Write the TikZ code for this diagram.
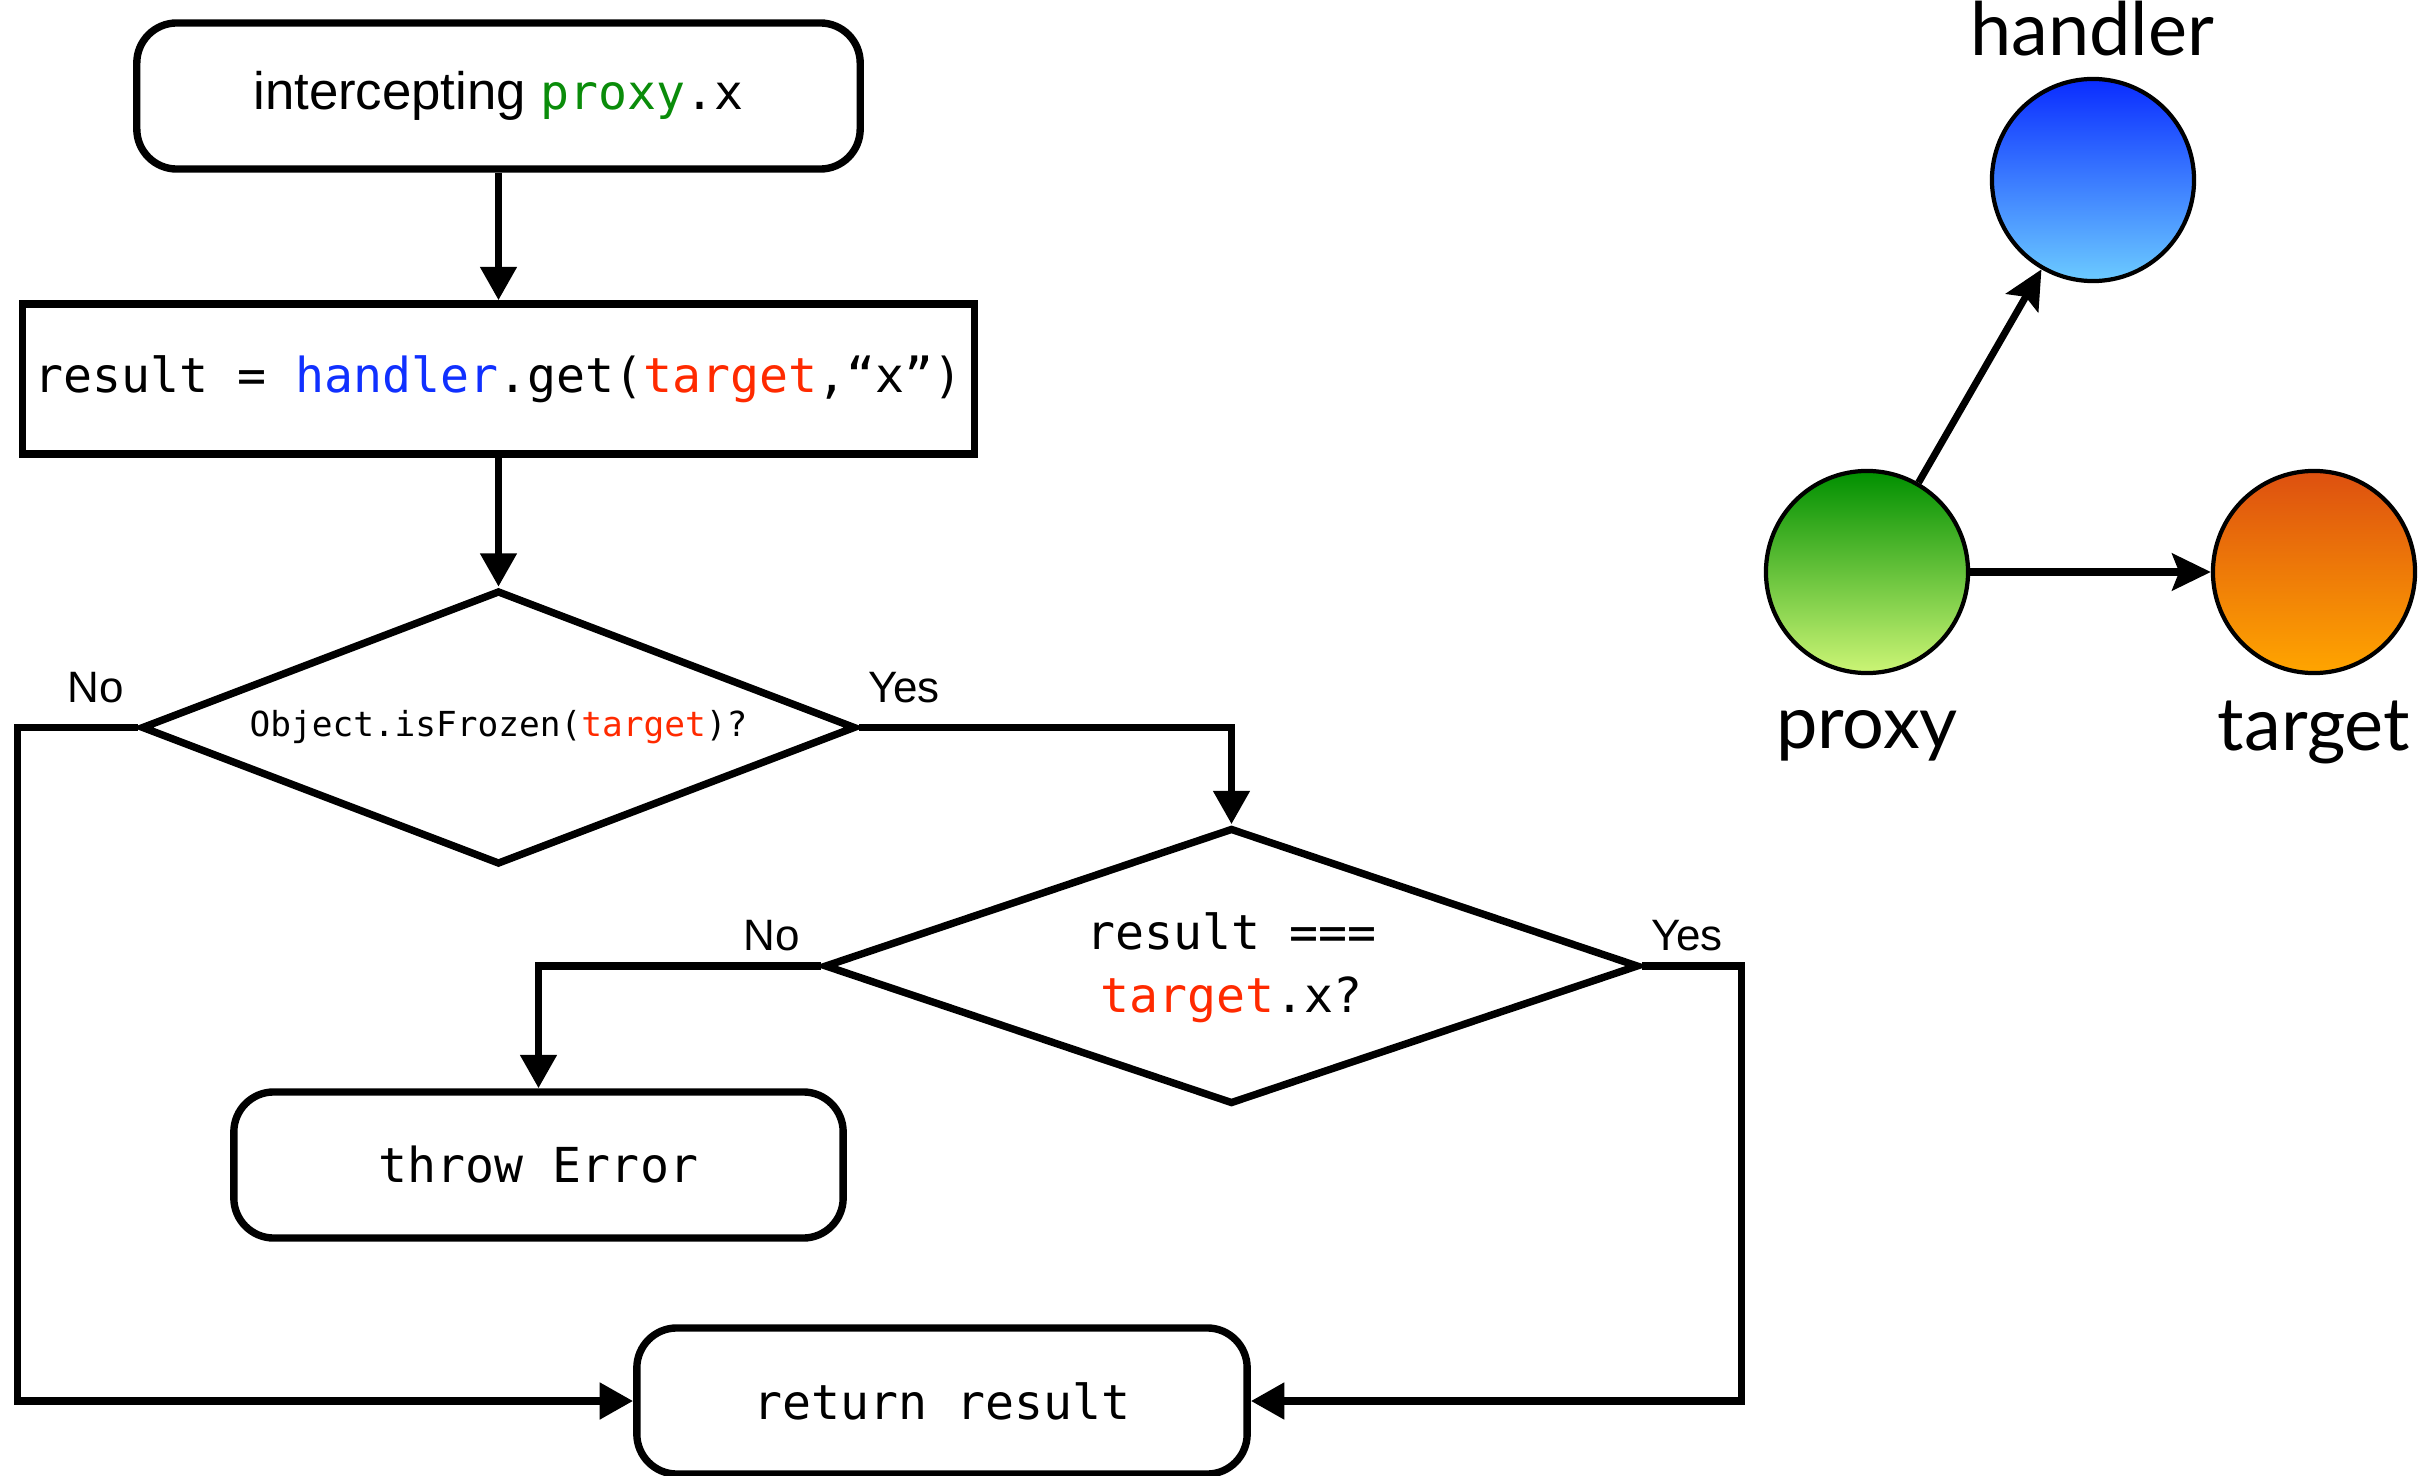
\documentclass[tikz,border=0pt]{standalone}
\usepackage{fontspec}
\setmainfont{Liberation Sans}
\setmonofont{DejaVu Sans Mono}
\newfontfamily\labelfont{Lato}
\usetikzlibrary{shapes.geometric,arrows.meta}
\definecolor{pgreen}{HTML}{0A8C0A}
\definecolor{hblue}{HTML}{1030FF}
\definecolor{tred}{HTML}{FF2A00}
\definecolor{hbtop}{HTML}{0A2CFF}
\definecolor{hbbot}{HTML}{6CCBFF}
\definecolor{pgtop}{HTML}{008F00}
\definecolor{pgbot}{HTML}{CCF576}
\definecolor{ttop}{HTML}{DD5010}
\definecolor{tbot}{HTML}{FFA500}
\newcommand\codefnt{\fontsize{13.7}{18}\selectfont\ttfamily}
\begin{document}
\begin{tikzpicture}[x=0.01cm,y=-0.01cm,
  rbox/.style={draw, line width=2.1pt, rounded corners=0.4cm, minimum height=1.46cm, inner sep=0pt, font=\codefnt},
  sbox/.style={draw, line width=2.1pt, inner sep=0pt, font=\codefnt},
  dbox/.style={draw, diamond, line width=2.1pt, inner sep=0pt},
  conn/.style={line width=2.1pt, -{Triangle[length=9.5pt,width=10pt]}},
  lbl/.style={font=\fontsize{12.5}{15}\selectfont},
  ball/.style={circle, draw, line width=1.2pt, minimum size=2.02cm, inner sep=0pt},
  bname/.style={font=\labelfont\fontsize{21}{25}\selectfont, anchor=base},
  link/.style={line width=2pt, -{Stealth[length=11pt,width=10.5pt,inset=2pt]}}
]
\useasboundingbox (0,0) rectangle (2435,1476);

% flowchart
\node[rbox, minimum width=7.23cm, text depth=0.33em] (top) at (498.5,96)
  {{\fontsize{15}{18}\selectfont\rmfamily intercepting }\textcolor{pgreen}{proxy}.x};
\node[sbox, minimum width=9.51cm, minimum height=1.50cm, text depth=0.3em] (rect) at (498.5,379)
  {result = \textcolor{hblue}{handler}.get(\textcolor{tred}{target},“x”)};
\node[dbox, minimum width=7.14cm, minimum height=2.74cm] (d1) at (498.5,727.5) {};
\node[font=\fontsize{9.8}{12}\selectfont\ttfamily] (q1) at (d1.center)
  {Object.isFrozen(\textcolor{tred}{target})?};
\node[dbox, minimum width=8.14cm, minimum height=2.76cm] (d2) at (1231.5,966) {};
\node[font=\codefnt, align=center] (q2) at (1231.5,968)
  {result ===\\\textcolor{tred}{target}.x?};
\node[rbox, minimum width=6.09cm] (err) at (538.5,1165) {throw Error};
\node[rbox, minimum width=6.10cm] (ret) at (942,1401) {return result};

\node[lbl] (n1) at (96,688) {No};
\node[lbl] (y1) at (904,688) {Yes};
\node[lbl] (n2) at (772,936) {No};
\node[lbl] (y2) at (1687,936) {Yes};

\draw[conn] (top) -- (rect);
\draw[conn] (rect) -- (d1);
\draw[conn] (d1.west) -- ++(-120,0) |- (ret.west);
\draw[conn] (d1.east) -| (d2.north);
\draw[conn] (d2.west) -| (err.north);
\draw[conn] (d2.east) -- ++(99,0) |- (ret.east);

% object graph
\node[ball, top color=hbtop, bottom color=hbbot] (h) at (2093,180) {};
\node[ball, top color=pgtop, bottom color=pgbot] (p) at (1867,572) {};
\node[ball, top color=ttop, bottom color=tbot] (t) at (2314,572) {};
\node[bname] (hl) at (2092,56) {handler};
\node[bname] (pl) at (1867,748) {proxy};
\node[bname] (tl) at (2314,750) {target};
\draw[link] (p) -- (h);
\draw[link] (p) -- (t);
\end{tikzpicture}
\end{document}
